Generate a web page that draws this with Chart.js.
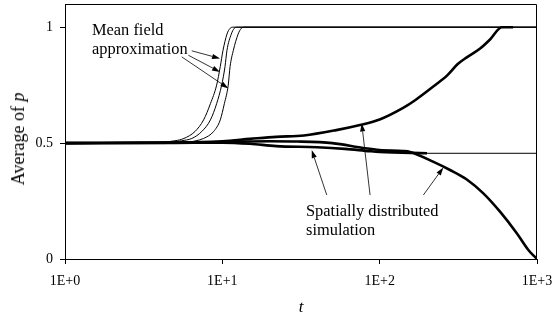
<!DOCTYPE html>
<html><head><meta charset="utf-8">
<script src="https://cdn.jsdelivr.net/npm/chart.js@4/dist/chart.umd.min.js"></script>
<style>
html,body{margin:0;padding:0;background:#fff;}
#wrap{position:relative;width:553px;height:322px;}
canvas{display:block}
.lbl{position:absolute;font-family:'Liberation Serif','Times New Roman',serif;font-size:16.4px;line-height:19px;color:#000;white-space:nowrap;}
#ytitle{position:absolute;left:18px;top:139px;transform:translate(-50%,-50%) rotate(-90deg);font-family:'Liberation Serif','Times New Roman',serif;font-size:18px;line-height:20px;color:#000;white-space:nowrap;}
</style></head><body>
<div id="wrap"><canvas id="c" width="553" height="322"></canvas>
<div class="lbl" style="left:92px;top:20px">Mean field<br>approximation</div>
<div class="lbl" style="left:306px;top:201px">Spatially distributed<br>simulation</div>
<div id="ytitle">Average of <i>p</i></div>
</div>
<script>
// ---- data (t on log axis, average of p) ----
const xTicks = [1, 10, 100, 1000];
const xTickLabels = ["1E+0", "1E+1", "1E+2", "1E+3"];
const yTicks = [0, 0.5, 1];
const yTickLabels = ["0", "0.5", "1"];

// Mean field approximation (three thin curves)
const mf1T = [1, 3, 4, 5, 5.7, 6.7, 7.6, 8.4, 9.2, 9.7, 10.1, 10.7, 11.2, 11.7, 1000];
const mf1P = [0.5, 0.5, 0.503, 0.51, 0.52, 0.55, 0.6, 0.67, 0.75, 0.83, 0.9, 0.97, 0.995, 1, 1];
const mf2T = [1, 3, 4.6, 5.5, 6.4, 7.4, 8.4, 9.2, 9.9, 10.4, 10.7, 11.4, 11.9, 12.4, 1000];
const mf2P = [0.5, 0.5, 0.503, 0.51, 0.52, 0.55, 0.6, 0.67, 0.75, 0.83, 0.9, 0.97, 0.995, 1, 1];
const mf3T = [1, 4, 5.9, 6.8, 7.6, 8.8, 9.7, 10.3, 10.9, 11.2, 11.75, 12.6, 13.2, 13.9, 1000];
const mf3P = [0.5, 0.5, 0.503, 0.51, 0.52, 0.55, 0.6, 0.67, 0.75, 0.83, 0.9, 0.97, 0.995, 1, 1];

// Spatially distributed simulation (thick curves)
const simAT = [1, 5, 10, 15, 22, 33, 53, 75, 100, 141, 168, 232, 267, 316, 358, 435, 503, 597, 705];
const simAP = [0.5, 0.502, 0.508, 0.518, 0.527, 0.533, 0.556, 0.578, 0.602, 0.652, 0.685, 0.757, 0.79, 0.843, 0.87, 0.908, 0.947, 1.0, 1.0];
const simBT = [1, 5, 10, 20, 30, 50, 80, 100, 141, 156, 220, 280, 358, 456, 582, 744, 881, 1000];
const simBP = [0.5, 0.502, 0.505, 0.508, 0.507, 0.5, 0.478, 0.47, 0.466, 0.462, 0.419, 0.384, 0.343, 0.283, 0.204, 0.111, 0.039, 0];
const simCT = [1, 5, 10, 15, 22, 40, 60, 87, 100, 200];
const simCP = [0.5, 0.501, 0.502, 0.497, 0.487, 0.482, 0.475, 0.465, 0.462, 0.456];
const simCTailT = [200, 1000];
const simCTailP = [0.456, 0.456];

// annotation arrows (tail -> head, in data coordinates)
const arrowTailT = [6.39, 6.08, 5.52, 46.1, 86.9, 189.6];
const arrowTailP = [0.898, 0.879, 0.872, 0.276, 0.276, 0.276];
const arrowHeadT = [9.67, 9.67, 10.92, 37.0, 76.9, 254];
const arrowHeadP = [0.865, 0.807, 0.736, 0.47, 0.585, 0.395];

function pts(t, p) { return t.map((x, i) => ({ x: x, y: p[i] })); }

function ds(t, p, w) {
  return { data: pts(t, p), borderColor: '#000', borderWidth: w, pointRadius: 0,
           fill: false, cubicInterpolationMode: 'monotone', borderCapStyle: 'butt', borderJoinStyle: 'round' };
}

const framePlugin = {
  id: 'frame',
  afterDatasetsDraw(chart) {
    const { ctx, chartArea: a, scales } = chart;
    ctx.save();
    ctx.strokeStyle = '#000';
    ctx.lineWidth = 1;
    ctx.beginPath();
    const L = Math.round(a.left) + 0.5, R = Math.round(a.right) - 0.5, T = Math.round(a.top) + 0.5;
    ctx.moveTo(L, T); ctx.lineTo(R, T); ctx.lineTo(R, Math.round(a.bottom));
    ctx.stroke();
    // arrows
    const xs = scales.x, ys = scales.y;
    ctx.fillStyle = '#000';
    ctx.lineWidth = 0.8;
    for (let i = 0; i < arrowTailT.length; i++) {
      const x1 = xs.getPixelForValue(arrowTailT[i]), y1 = ys.getPixelForValue(arrowTailP[i]);
      const x2 = xs.getPixelForValue(arrowHeadT[i]), y2 = ys.getPixelForValue(arrowHeadP[i]);
      const ang = Math.atan2(y2 - y1, x2 - x1);
      const hl = 8, hw = 2.6;
      const bx = x2 - hl * Math.cos(ang), by = y2 - hl * Math.sin(ang);
      ctx.beginPath(); ctx.moveTo(x1, y1); ctx.lineTo(bx, by); ctx.stroke();
      ctx.beginPath();
      ctx.moveTo(x2, y2);
      ctx.lineTo(bx + hw * Math.sin(ang), by - hw * Math.cos(ang));
      ctx.lineTo(bx - hw * Math.sin(ang), by + hw * Math.cos(ang));
      ctx.closePath(); ctx.fill();
    }
    ctx.restore();
  }
};

const tickFont = { family: "'Liberation Serif', 'Times New Roman', serif", size: 14 };

new Chart(document.getElementById('c'), {
  type: 'line',
  data: {
    datasets: [
      ds(mf1T, mf1P, 1), ds(mf2T, mf2P, 1), ds(mf3T, mf3P, 1),
      ds(simCTailT, simCTailP, 1),
      ds(simAT, simAP, 2.6), ds(simBT, simBP, 2.6), ds(simCT, simCP, 2.6)
    ]
  },
  options: {
    responsive: false, animation: false,
    layout: { padding: { top: 4, right: 16, left: 0, bottom: 0 } },
    plugins: { legend: { display: false }, tooltip: { enabled: false } },
    scales: {
      x: {
        type: 'logarithmic', min: 1, max: 1000,
        afterBuildTicks: s => { s.ticks = xTicks.map(v => ({ value: v })); },
        afterFit: s => { s.height = 63; s.paddingLeft = 0; s.paddingRight = 0; },
        ticks: { callback: (v, i) => xTickLabels[i], font: tickFont, color: '#000', padding: 9, maxRotation: 0, autoSkip: false },
        grid: { drawOnChartArea: false, drawTicks: true, tickLength: 5, color: '#000' },
        border: { color: '#000', width: 1 },
        title: { display: true, text: 't', color: '#000', font: { family: "'Liberation Serif', serif", size: 17, style: 'italic' }, padding: { top: 0, bottom: 4 } }
      },
      y: {
        min: 0, max: 1.1,
        afterBuildTicks: s => { s.ticks = yTicks.map(v => ({ value: v })); },
        afterFit: s => { s.width = 65; s.paddingTop = 0; s.paddingBottom = 0; },
        ticks: { callback: (v, i) => yTickLabels[i], font: tickFont, color: '#000', padding: 7 },
        grid: { drawOnChartArea: false, drawTicks: true, tickLength: 5, color: '#000' },
        border: { color: '#000', width: 1 }
      }
    }
  },
  plugins: [framePlugin]
});
</script>
</body></html>
